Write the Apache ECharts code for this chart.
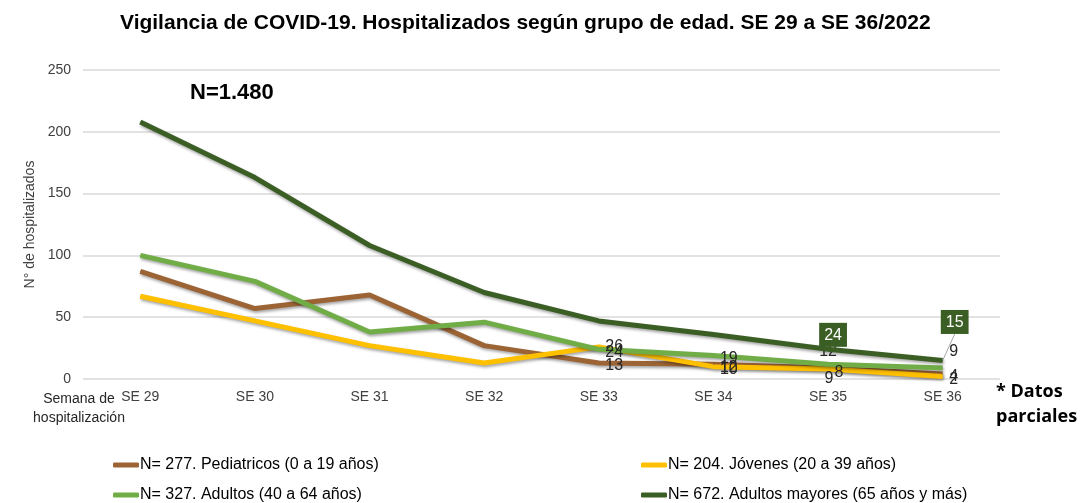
<!DOCTYPE html>
<html>
<head>
<meta charset="utf-8">
<script src="https://cdn.jsdelivr.net/npm/echarts@6/dist/echarts.min.js"></script>
<style>html,body{margin:0;padding:0;background:#fff}#c{width:1092px;height:503px}</style>
</head>
<body>
<div id="c"></div>
<script>
const categories = ['SE 29','SE 30','SE 31','SE 32','SE 33','SE 34','SE 35','SE 36'];
const pediatricos = [87, 57, 68, 27, 13, 12, 9, 4];
const jovenes = [67, 47, 27, 13, 26, 10, 8, 2];
const adultos = [100, 79, 38, 46, 24, 19, 12, 9];
const adultosMayores = [208, 163, 108, 70, 47, 36, 24, 15];
const names = [
  'N= 277. Pediatricos (0 a 19 años)',
  'N= 204. Jóvenes (20 a 39 años)',
  'N= 327. Adultos (40 a 64 años)',
  'N= 672. Adultos mayores (65 años y más)'
];
const colors = ['#9C6434', '#FFC000', '#70AD47', '#3A5E24'];
const yTicks = [0, 50, 100, 150, 200, 250];

// label placement tweaks (style only), keyed by data index
const labelTweaks = {
  ped: { 6: { offset: [-10, 11] } },
  jov: { 4: { offset: [0, 0] } },
  adu: { 6: { position: 'top', distance: 4, offset: [0, 0] }, 7: { offset: [0, -16] } },
  may: { 6: { dx: 5, dy: 4 }, 7: { dx: 12, dy: -20 } }
};

const chart = echarts.init(document.getElementById('c'));
const lineFont = 'Liberation Sans, Arial, sans-serif';

function withTweaks(vals, tweaks, showFrom) {
  return vals.map((v, i) => ({
    value: v,
    label: Object.assign({ show: i >= showFrom }, tweaks[i] || {})
  }));
}

function mkSeries(idx, data, labelCfg, extra) {
  return Object.assign({
    name: names[idx],
    type: 'line',
    data: data,
    symbol: 'circle',
    symbolSize: 1,
    showSymbol: true,
    itemStyle: { color: colors[idx] },
    smooth: false,
    color: colors[idx],
    lineStyle: {
      width: 5, color: colors[idx],
      shadowColor: 'rgba(0,0,0,0.35)', shadowBlur: 3, shadowOffsetY: 2, shadowOffsetX: 1
    },
    label: Object.assign({
      show: true,
      color: '#262626',
      fontSize: 16,
      fontFamily: lineFont,
      formatter: p => String(p.value)
    }, labelCfg),
    emphasis: { disabled: true },
    z: 2
  }, extra || {});
}

function mkLegend(idx, left, top) {
  return {
    data: [{ name: names[idx], itemStyle: { color: colors[idx], opacity: 1 } }],
    left: left, top: top,
    itemWidth: 26, itemHeight: 5,
    icon: 'roundRect',
    textStyle: { fontSize: 16, color: '#000', fontFamily: lineFont, padding: [0, 0, 0, -4] }
  };
}

const mayoresData = adultosMayores.map((v, i) => ({
  value: v,
  label: { show: i >= 6 },
  labelLine: { show: i === 7 }
}));

chart.setOption({
  animation: false,
  backgroundColor: '#fff',
  title: {
    text: 'Vigilancia de COVID-19. Hospitalizados según grupo de edad. SE 29 a SE 36/2022',
    left: 115, top: 8,
    textStyle: { fontSize: 21, fontWeight: 'bold', color: '#000', fontFamily: lineFont }
  },
  grid: { left: 83, right: 92, top: 70, bottom: 124, containLabel: false },
  xAxis: {
    type: 'category',
    data: categories,
    boundaryGap: true,
    axisLine: { show: false },
    axisTick: { show: false },
    axisLabel: { color: '#404040', fontSize: 14, margin: 11, fontFamily: lineFont }
  },
  yAxis: {
    type: 'value',
    min: yTicks[0], max: yTicks[yTicks.length - 1], interval: 50,
    name: 'N° de hospitalizados',
    nameLocation: 'middle',
    nameGap: 46,
    nameMoveOverlap: false,
    nameTextStyle: { color: '#404040', fontSize: 14, fontFamily: lineFont },
    axisLabel: { color: '#404040', fontSize: 14, margin: 12, fontFamily: lineFont },
    splitLine: { lineStyle: { color: '#D9D9D9', width: 1.5 } },
    axisLine: { show: false },
    axisTick: { show: false }
  },
  legend: [
    mkLegend(0, 108, 452),
    mkLegend(2, 108, 482),
    mkLegend(1, 636, 452),
    mkLegend(3, 636, 482)
  ],
  series: [
    mkSeries(0, withTweaks(pediatricos, labelTweaks.ped, 4), { position: 'right', distance: 6, offset: [0, 3] }),
    mkSeries(1, withTweaks(jovenes, labelTweaks.jov, 4), { position: 'right', distance: 6, offset: [0, 3] }),
    mkSeries(2, withTweaks(adultos, labelTweaks.adu, 4), { position: 'right', distance: 6, offset: [0, 3] }),
    mkSeries(3, mayoresData, {
      position: 'top', distance: 6,
      color: '#fff',
      backgroundColor: '#3A5E24',
      padding: [5, 5, 3, 5]
    }, {
      labelLine: { show: false, lineStyle: { color: '#A6A6A6', width: 1 } },
      labelLayout: p => (labelTweaks.may[p.dataIndex] || {}),
      z: 3
    })
  ],
  graphic: [
    { type: 'text', left: 190, top: 82, style: { text: 'N=1.480', fontSize: 22, fontWeight: 'bold', fill: '#000', fontFamily: lineFont } },
    { type: 'text', x: 79, y: 390, style: { text: 'Semana de\nhospitalización', fontSize: 14, lineHeight: 19, fill: '#262626', align: 'center', fontFamily: lineFont } },
    { type: 'text', left: 996, top: 379, style: { text: '* Datos\nparciales', fontSize: 18, lineHeight: 25, fontWeight: 'bold', fill: '#000', fontFamily: '"Open Sans", "Liberation Sans", sans-serif' } }
  ]
});
</script>
</body>
</html>
